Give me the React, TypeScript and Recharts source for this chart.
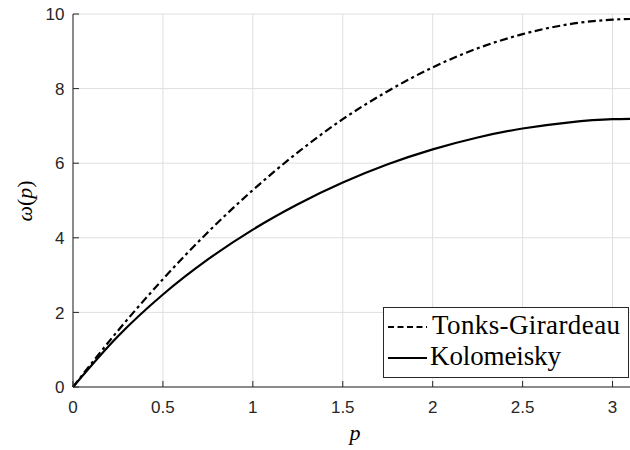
import React from 'react';
import { LineChart, Line, XAxis, YAxis, CartesianGrid, Legend } from 'recharts';

// momentum p (0 .. pi)
const P_VALUES = [0, 0.25, 0.5, 0.75, 1, 1.25, 1.5, 1.75, 2, 2.25, 2.5, 2.75, 3, 3.1416];
const TONKS_GIRARDEAU = [0, 1.51, 2.89, 4.15, 5.28, 6.29, 7.18, 7.93, 8.57, 9.08, 9.46, 9.72, 9.85, 9.87];
const KOLOMEISKY = [0, 1.36, 2.48, 3.42, 4.22, 4.9, 5.48, 5.97, 6.37, 6.69, 6.93, 7.09, 7.18, 7.19];

const X_TICKS = [0, 0.5, 1, 1.5, 2, 2.5, 3];
const Y_TICKS = [0, 2, 4, 6, 8, 10];

const TG_DASH = '8 3.5 3 3.5';

const data = P_VALUES.map((p, i) => ({
  p,
  tg: TONKS_GIRARDEAU[i],
  kol: KOLOMEISKY[i],
}));

const AXIS = '#262626';
const PLOT_LEFT = 73;
const PLOT_TOP = 14;
const PLOT_BOTTOM = 387;
const TICK_LEN = 6;
const tickFont = { fontFamily: 'Liberation Sans, Arial, sans-serif', fontSize: 17, fill: AXIS };
const serif = "'Liberation Serif', 'DejaVu Serif', serif";

const BottomTick = (props: any) => {
  const { x, payload } = props;
  return (
    <g>
      <line x1={x} x2={x} y1={PLOT_BOTTOM} y2={PLOT_BOTTOM - TICK_LEN} stroke={AXIS} strokeWidth={1} />
      <text x={x} y={413} textAnchor="middle" {...tickFont}>
        {payload.value}
      </text>
    </g>
  );
};

const TopTick = (props: any) => {
  const { x } = props;
  return <line x1={x} x2={x} y1={PLOT_TOP} y2={PLOT_TOP + TICK_LEN} stroke={AXIS} strokeWidth={1} />;
};

const LeftTick = (props: any) => {
  const { y, payload } = props;
  return (
    <g>
      <line x1={PLOT_LEFT} x2={PLOT_LEFT + TICK_LEN} y1={y} y2={y} stroke={AXIS} strokeWidth={1} />
      <text x={64.5} y={y + 6.2} textAnchor="end" {...tickFont}>
        {payload.value}
      </text>
    </g>
  );
};

const renderLegend = () => (
  <svg width={246} height={71} style={{ display: 'block' }}>
    <rect x={0.5} y={0.5} width={245} height={70} fill="#fff" stroke={AXIS} strokeWidth={1} />
    <line x1={5} x2={44} y1={20} y2={20} stroke="#000" strokeWidth={2} strokeDasharray="6 3.5" />
    <text x={49} y={26.5} textLength={188} style={{ fontFamily: serif, fontSize: 27 }} fill="#000">
      Tonks-Girardeau
    </text>
    <line x1={5} x2={44} y1={51} y2={51} stroke="#000" strokeWidth={2} />
    <text x={47} y={58} textLength={131} style={{ fontFamily: serif, fontSize: 27 }} fill="#000">
      Kolomeisky
    </text>
  </svg>
);

export default function App() {
  return (
    <div
      style={{
        position: 'fixed',
        left: 0,
        top: 0,
        width: 630,
        height: 450,
        overflow: 'hidden',
        background: '#fff',
      }}
    >
      <LineChart width={660} height={450} data={data} margin={{ top: PLOT_TOP, right: 22, left: 0, bottom: 0 }}>
        <CartesianGrid stroke="#dfdfdf" strokeWidth={1} />
        <XAxis
          dataKey="p"
          type="number"
          domain={[0, Math.PI]}
          ticks={X_TICKS}
          height={450 - PLOT_BOTTOM}
          stroke={AXIS}
          tickLine={false}
          tick={<BottomTick />}
          interval={0}
          label={{
            content: () => (
              <text
                x={355}
                y={440}
                textAnchor="middle"
                style={{ fontFamily: serif, fontSize: 22, fontStyle: 'italic' }}
                fill="#000"
              >
                p
              </text>
            ),
          }}
        />
        <XAxis
          xAxisId="top"
          dataKey="p"
          type="number"
          orientation="top"
          domain={[0, Math.PI]}
          ticks={X_TICKS}
          height={0}
          stroke={AXIS}
          tickLine={false}
          tick={<TopTick />}
          interval={0}
        />
        <YAxis
          type="number"
          domain={[0, 10]}
          ticks={Y_TICKS}
          width={PLOT_LEFT}
          stroke={AXIS}
          tickLine={false}
          tick={<LeftTick />}
          interval={0}
          label={{
            content: () => (
              <text
                transform="translate(31.5,201) rotate(-90)"
                textAnchor="middle"
                style={{ fontFamily: serif, fontSize: 22 }}
                fill="#000"
              >
                <tspan style={{ fontStyle: 'italic' }}>ω</tspan>(<tspan style={{ fontStyle: 'italic' }}>p</tspan>)
              </text>
            ),
          }}
        />
        <Legend
          layout="horizontal"
          verticalAlign="middle"
          align="center"
          wrapperStyle={{ left: 383, top: 307, width: 246, height: 71 }}
          content={renderLegend}
        />
        <Line
          type="monotone"
          dataKey="tg"
          name="Tonks-Girardeau"
          stroke="#000"
          strokeWidth={2.2}
          strokeDasharray={TG_DASH}
          dot={false}
          activeDot={false}
          isAnimationActive={false}
        />
        <Line
          type="monotone"
          dataKey="kol"
          name="Kolomeisky"
          stroke="#000"
          strokeWidth={2.2}
          dot={false}
          activeDot={false}
          isAnimationActive={false}
        />
      </LineChart>
    </div>
  );
}
